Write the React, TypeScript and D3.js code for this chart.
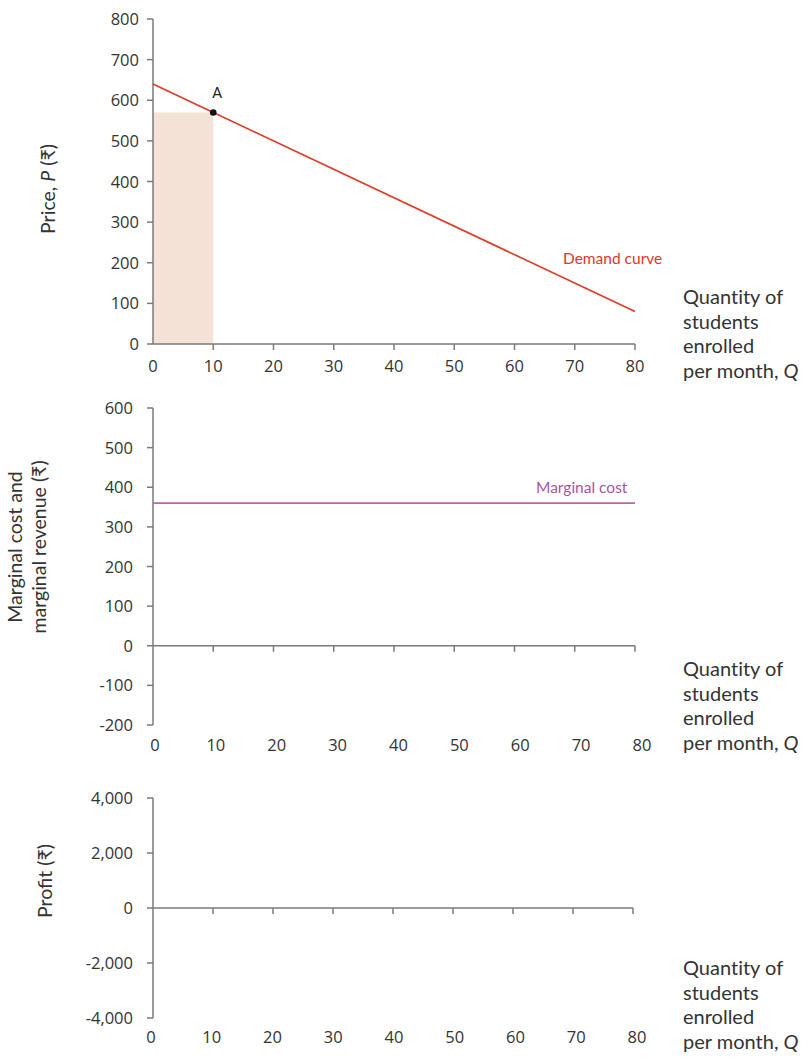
import React, { useEffect, useRef } from 'react';
import * as d3 from 'd3';

// Demand curve endpoints (Q, P)
const demandQ = [0, 80];
const demandP = [640, 80];
// Point A on the demand curve
const pointA = { q: 10, p: 570, label: 'A' };
// Marginal cost (flat)
const mcQ = [0, 80];
const mcValue = [360, 360];

const xTicks = [0, 10, 20, 30, 40, 50, 60, 70, 80];
const priceTicks = [0, 100, 200, 300, 400, 500, 600, 700, 800];
const mcTicks = [-200, -100, 0, 100, 200, 300, 400, 500, 600];
const profitTicks = [-4000, -2000, 0, 2000, 4000];

const qLabel = ['Quantity of', 'students', 'enrolled', 'per month, '];

const AXIS = '#7a7a7a';
const TEXT = '#333333';
const TICK_FONT = '"Open Sans", "Noto Sans", sans-serif';
const LABEL_FONT = 'Lato, "Noto Sans", sans-serif';

export default function App() {
  const svgRef = useRef<SVGSVGElement>(null);

  useEffect(() => {
    if (!svgRef.current) return;
    const svg = d3.select(svgRef.current);
    svg.selectAll('*').remove();

    // hyphen for negatives, as in the original
    const fmt = (v: number) => d3.format(',')(v).replace('\u2212', '-');

    const yAxis = (y: d3.ScaleLinear<number, number>, ticks: number[], x0: number, gap: number) => {
      const g = svg.append('g');
      g.append('line')
        .attr('x1', x0).attr('x2', x0)
        .attr('y1', y(ticks[0])).attr('y2', y(ticks[ticks.length - 1]))
        .attr('stroke', AXIS).attr('stroke-width', 1.5);
      ticks.forEach(t => {
        g.append('line')
          .attr('x1', x0 - 6).attr('x2', x0)
          .attr('y1', y(t)).attr('y2', y(t))
          .attr('stroke', AXIS).attr('stroke-width', 1.5);
        g.append('text')
          .attr('x', x0 - gap).attr('y', y(t) + 6)
          .attr('text-anchor', 'end')
          .attr('font-family', TICK_FONT).attr('font-size', 16.5)
          .attr('fill', TEXT)
          .text(fmt(t));
      });
    };

    const xAxis = (
      x: d3.ScaleLinear<number, number>,
      xl: d3.ScaleLinear<number, number>,
      yLine: number,
      yLabel: number
    ) => {
      const g = svg.append('g');
      g.append('line')
        .attr('x1', x(0)).attr('x2', x(80))
        .attr('y1', yLine).attr('y2', yLine)
        .attr('stroke', AXIS).attr('stroke-width', 1.5);
      xTicks.forEach(t => {
        if (t > 0) {
          g.append('line')
            .attr('x1', x(t)).attr('x2', x(t))
            .attr('y1', yLine).attr('y2', yLine + 6)
            .attr('stroke', AXIS).attr('stroke-width', 1.5);
        }
        g.append('text')
          .attr('x', xl(t)).attr('y', yLabel)
          .attr('text-anchor', 'middle')
          .attr('font-family', TICK_FONT).attr('font-size', 16.5)
          .attr('fill', TEXT)
          .text(t);
      });
    };

    const quantityLabel = (x0: number, y0: number) => {
      const t = svg.append('text')
        .attr('font-family', LABEL_FONT).attr('font-size', 20)
        .style('font-variant-ligatures', 'none')
        .attr('fill', TEXT);
      qLabel.forEach((s, i) => {
        const ts = t.append('tspan').attr('x', x0).attr('y', y0 + i * 24.6).text(s);
        if (i === qLabel.length - 1) ts.append('tspan').attr('font-style', 'italic').text('Q');
      });
    };

    const yLabel = (cx: number, cy: number, lines: (string | [string, string, string])[]) => {
      const t = svg.append('text')
        .attr('transform', `translate(${cx},${cy}) rotate(-90)`)
        .attr('text-anchor', 'middle')
        .attr('font-family', LABEL_FONT).attr('font-size', 19.5)
        .attr('fill', TEXT);
      lines.forEach((l, i) => {
        const ts = t.append('tspan').attr('x', 0).attr('y', i * 24 - (lines.length - 1) * 12 + 7);
        if (typeof l === 'string') ts.text(l);
        else {
          ts.append('tspan').text(l[0]);
          ts.append('tspan').attr('font-style', 'italic').text(l[1]);
          ts.append('tspan').text(l[2]);
        }
      });
    };

    // Panel 1: demand
    const x1 = d3.scaleLinear().domain([0, 80]).range([153, 635]);
    const y1 = d3.scaleLinear().domain([0, 800]).range([344, 19]);

    svg.append('rect')
      .attr('x', x1(0)).attr('y', y1(pointA.p))
      .attr('width', x1(pointA.q) - x1(0))
      .attr('height', y1(0) - y1(pointA.p))
      .attr('fill', '#f4e2d6');

    yAxis(y1, priceTicks, 153, 14);
    xAxis(x1, x1, 344, 372);

    const line = d3.line<[number, number]>();
    svg.append('path')
      .attr('d', line(demandQ.map((q, i) => [x1(q), y1(demandP[i])] as [number, number])))
      .attr('stroke', '#de3a26').attr('stroke-width', 1.6).attr('fill', 'none');

    svg.append('circle')
      .attr('cx', x1(pointA.q)).attr('cy', y1(pointA.p)).attr('r', 3.3)
      .attr('fill', '#111');
    svg.append('text')
      .attr('x', x1(pointA.q) + 4).attr('y', y1(pointA.p) - 14)
      .attr('text-anchor', 'middle')
      .attr('font-family', LABEL_FONT).attr('font-size', 14.5)
      .attr('fill', '#222').text(pointA.label);

    svg.append('text')
      .attr('x', 563).attr('y', 264)
      .attr('font-family', LABEL_FONT).attr('font-size', 15.5)
      .attr('fill', '#e0352a').text('Demand curve');

    yLabel(48, 189, [['Price, ', 'P', ' (₹)']]);
    quantityLabel(683, 304);

    // Panel 2: marginal cost and marginal revenue
    const x2 = d3.scaleLinear().domain([0, 80]).range([153, 635]);
    const x2l = d3.scaleLinear().domain([0, 80]).range([155, 642]);
    const y2 = d3.scaleLinear().domain([-200, 600]).range([725, 408]);

    yAxis(y2, mcTicks, 153, 20);
    xAxis(x2, x2l, y2(0), 751);

    svg.append('path')
      .attr('d', line(mcQ.map((q, i) => [x2(q), y2(mcValue[i])] as [number, number])))
      .attr('stroke', '#c561a6').attr('stroke-width', 1.6).attr('fill', 'none');
    svg.append('text')
      .attr('x', 536).attr('y', 493)
      .attr('font-family', LABEL_FONT).attr('font-size', 15.5)
      .attr('fill', '#a8559f').text('Marginal cost');

    yLabel(27, 547, ['Marginal cost and', 'marginal revenue (₹)']);
    quantityLabel(683, 676);

    // Panel 3: profit
    const x3 = d3.scaleLinear().domain([0, 80]).range([153, 633]);
    const x3l = d3.scaleLinear().domain([0, 80]).range([151, 637]);
    const y3 = d3.scaleLinear().domain([-4000, 4000]).range([1018, 798]);

    yAxis(y3, profitTicks, 153, 20);
    xAxis(x3, x3l, y3(0), 1043);

    yLabel(45, 881, ['Profit (₹)']);
    quantityLabel(683, 975);
  }, []);

  return (
    <svg
      ref={svgRef}
      width={810}
      height={1059}
      style={{ position: 'absolute', left: 0, top: 0, background: '#fff' }}
    />
  );
}
